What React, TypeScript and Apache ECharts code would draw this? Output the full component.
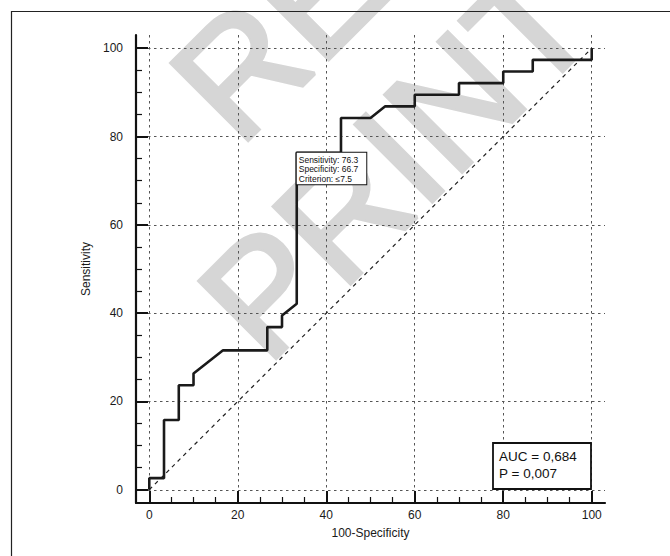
import React, { useEffect, useRef } from "react";
import * as echarts from "echarts";

// ROC curve points (100-Specificity, Sensitivity)
const fprValues = [0, 0, 3.33, 3.33, 6.67, 6.67, 10, 10, 16.67, 26.67, 26.67, 30, 30, 33.33, 33.33, 43.33, 43.33, 50, 53.33, 60, 60, 70, 70, 80, 80, 86.67, 86.67, 100, 100];
const tprValues = [0, 2.63, 2.63, 15.79, 15.79, 23.68, 23.68, 26.32, 31.58, 31.58, 36.84, 36.84, 39.47, 42.11, 76.32, 76.32, 84.21, 84.21, 86.84, 86.84, 89.47, 89.47, 92.11, 92.11, 94.74, 94.74, 97.37, 97.37, 100];

// reference diagonal
const diagonalX = [0, 100];
const diagonalY = [0, 100];

// ticks
const majorTicks = [0, 20, 40, 60, 80, 100];
const minorTicks = [5, 10, 15, 25, 30, 35, 45, 50, 55, 65, 70, 75, 85, 90, 95];

// annotations
const criterionPoint = [33.33, 76.32];
const criterionLines = ["Sensitivity: 76.3", "Specificity: 66.7", "Criterion: \u22647.5"];
const statLines = ["AUC = 0,684", "P = 0,007"];
const watermarkLines = ["RE", "PRINT"];

const FONT = "'Liberation Sans', Arial, Helvetica, sans-serif";

export default function App() {
  const ref = useRef<HTMLDivElement>(null);

  useEffect(() => {
    if (!ref.current) return;
    const chart = echarts.init(ref.current, null, { renderer: "svg" });

    const rocData = fprValues.map((x, i) => [x, tprValues[i]]);
    const diagData = diagonalX.map((x, i) => [x, diagonalY[i]]);

    const mainAxis = (name: string, isX: boolean) => ({
      type: "value",
      gridIndex: 0,
      min: -3,
      max: 103,
      position: isX ? "bottom" : "left",
      name,
      nameLocation: "middle",
      nameGap: isX ? 24 : 42,
      nameTextStyle: { fontFamily: FONT, fontSize: 12, color: "#1a1a1a" },
      axisLine: { show: true, onZero: false, lineStyle: { color: "#111", width: 2.2 } },
      axisTick: {
        show: true,
        inside: true,
        length: 12,
        customValues: majorTicks,
        lineStyle: { color: "#111", width: 2 },
      },
      axisLabel: {
        show: true,
        customValues: majorTicks,
        margin: isX ? 6 : 13,
        fontFamily: FONT,
        fontSize: 12,
        color: "#1a1a1a",
      },
      splitLine: {
        show: true,
        customValues: majorTicks,
        lineStyle: { color: "#555", width: 1, type: [2.5, 3.5] },
      },
    });

    const minorAxis = (isX: boolean) => ({
      type: "value",
      gridIndex: 0,
      min: -3,
      max: 103,
      position: isX ? "bottom" : "left",
      axisLine: { show: false, onZero: false },
      axisTick: {
        show: true,
        inside: true,
        length: 6,
        customValues: minorTicks,
        lineStyle: { color: "#111", width: 1.2 },
      },
      axisLabel: { show: false },
      splitLine: { show: false },
    });

    const wmRot = Math.PI / 4;
    const wmStyle = (text: string) => ({
      text,
      fontFamily: FONT,
      fontSize: 158,
      fill: "#d6d6d6",
      stroke: "#d6d6d6",
      lineWidth: 4,
      align: "left",
      textAlign: "left",
      verticalAlign: "middle",
      textVerticalAlign: "middle",
    });
    const statStyle = (text: string) => ({
      text,
      fontFamily: FONT,
      fontSize: 13.5,
      fill: "#111",
      align: "left",
      textAlign: "left",
      verticalAlign: "middle",
      textVerticalAlign: "middle",
    });

    chart.setOption({
      animation: false,
      backgroundColor: "#fff",
      grid: { left: 136, top: 35, width: 469, height: 468, containLabel: false },
      xAxis: [mainAxis("100-Specificity", true), minorAxis(true)],
      yAxis: [mainAxis("Sensitivity", false), minorAxis(false)],
      series: [
        {
          type: "line",
          xAxisIndex: 0,
          yAxisIndex: 0,
          data: diagData,
          symbol: "none",
          silent: true,
          lineStyle: { color: "#222", width: 1.2, type: [4, 4] },
          z: 3,
        },
        {
          type: "line",
          xAxisIndex: 0,
          yAxisIndex: 0,
          data: rocData,
          symbol: "none",
          silent: true,
          lineStyle: { color: "#1a1a1a", width: 2.6 },
          z: 4,
          markPoint: {
            silent: true,
            symbol: "circle",
            symbolSize: 0.01,
            itemStyle: { color: "transparent" },
            data: [
              {
                coord: criterionPoint,
                label: {
                  show: true,
                  position: [0, 0],
                  align: "left",
                  verticalAlign: "top",
                  formatter: criterionLines.join("\n"),
                  fontFamily: FONT,
                  fontSize: 8.5,
                  lineHeight: 9.5,
                  color: "#111",
                  backgroundColor: "#fff",
                  borderColor: "#111",
                  borderWidth: 1,
                  padding: [2, 8, 1, 2],
                },
              },
            ],
          },
        },
      ],
      graphic: [
        {
          type: "rect",
          z: 0,
          silent: true,
          shape: { x: 11.5, y: 11.5, width: 700, height: 600 },
          style: { fill: "none", stroke: "#222", lineWidth: 1.2 },
        },
        {
          type: "text",
          z: -1,
          silent: true,
          x: 200,
          y: 110,
          rotation: wmRot,
          style: wmStyle(watermarkLines[0]),
        },
        {
          type: "text",
          z: -1,
          silent: true,
          x: 228,
          y: 328,
          rotation: wmRot,
          style: wmStyle(watermarkLines[1]),
        },
        {
          type: "rect",
          z: 10,
          silent: true,
          shape: { x: 493, y: 443, width: 98, height: 46 },
          style: { fill: "#fff", stroke: "#111", lineWidth: 1.8 },
        },
        {
          type: "text",
          z: 11,
          silent: true,
          x: 499,
          y: 456,
          style: statStyle(statLines[0]),
        },
        {
          type: "text",
          z: 11,
          silent: true,
          x: 499,
          y: 473,
          style: statStyle(statLines[1]),
        },
      ],
    });

    return () => chart.dispose();
  }, []);

  return (
    <div
      ref={ref}
      style={{ position: "fixed", left: 0, top: 0, width: 670, height: 556, background: "#fff" }}
    />
  );
}
